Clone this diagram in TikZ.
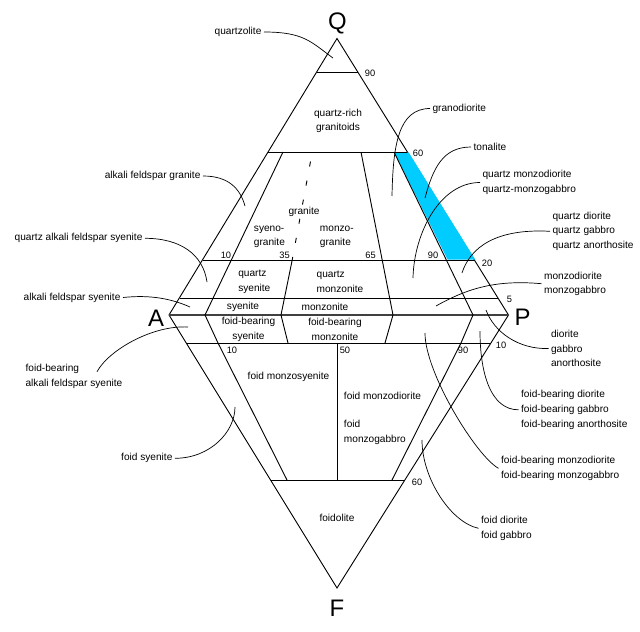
\documentclass[tikz,border=0pt]{standalone}
\usepackage{fontspec}
\setmainfont{Liberation Sans}
\usetikzlibrary{calc}
\definecolor{tonblue}{RGB}{0,204,255}
\newcommand{\fieldfont}{\fontsize{7.2}{10.4}\selectfont}
\newcommand{\tickfont}{\fontsize{6.6}{8}\selectfont}
\newcommand{\apexfont}{\fontsize{17}{20}\selectfont}

\begin{document}
\begin{tikzpicture}[x=0.025cm, y=-0.025cm, line width=0.65pt,
  field/.style={font=\fieldfont, inner sep=0pt, align=center},
  rock/.style={font=\fieldfont, inner sep=1.5pt, align=left},
  tick/.style={font=\tickfont, inner sep=0pt},
  apex/.style={font=\apexfont, inner sep=0pt},
  leader/.style={line width=0.5pt}]
  \useasboundingbox (0,0) rectangle (640,632);
  % Corners of the double triangle
  \coordinate (Q) at (337,38.5);
  \coordinate (A) at (169,315);
  \coordinate (P) at (508.5,315);
  \coordinate (F) at (337,588);
  \draw (Q) -- (P) -- (F) -- (A) -- cycle;
  \node[apex] (Qlab) at (337.5,23) {Q};
  \node[apex] (Alab) at (156,318) {A};
  \node[apex] (Plab) at (522.5,317.5) {P};
  \node[apex] (Flab) at (337,608) {F};
  % Tonalite field
  \fill[tonblue] (394.5,152.5) -- (408.7,152.5) -- (475.2,259.5) -- (447.5,259.5) -- cycle;
  % Horizontal lines (Q and F contents)
  \draw (317,72) -- (357.6,72);
  \draw (268.2,152) -- (407.4,152);
  \draw (202.5,260) -- (474.7,260);
  \draw (179.5,298) -- (498.4,298);
  \draw[line width=1.1pt, black!75] (A) -- (P);
  \draw (186,343) -- (490.9,343);
  \draw (270.5,480) -- (404.9,480);
  % Lines of P/(A+P)
  \draw (283,152) -- (205,315) -- (218,343) -- (287,480);
  \draw[dash pattern=on 3.6pt off 10.2pt] (310.5,161.5) -- (292.2,260);
  \draw (292.2,260) -- (281,315) -- (288,343);
  \draw (361,152) -- (393,315) -- (385,343);
  \draw (394,152) -- (473,315) -- (461,343) -- (392,480);
  \draw (337.5,343) -- (337.5,480);
  % Tick values
  \node[tick] (t90q) at (370,73) {90};
  \node[tick] (t60q) at (418,153) {60};
  \node[tick] (t10a) at (226,255) {10};
  \node[tick] (t35) at (284.5,255) {35};
  \node[tick] (t65) at (370.5,255) {65};
  \node[tick] (t90p) at (433,255) {90};
  \node[tick] (t20q) at (487,263) {20};
  \node[tick] (t5q) at (509.5,299) {5};
  \node[tick] (t10f) at (501,345) {10};
  \node[tick] (t10b) at (232,350) {10};
  \node[tick] (t50) at (345,350) {50};
  \node[tick] (t90b) at (463,350) {90};
  \node[tick] (t60f) at (417,482) {60};
  % Field names inside
  \node[field] (qrich) at (338,121) {quartz-rich\\granitoids};
  \node[field] (granite) at (304,212) {granite};
  \node[field, anchor=west, align=left] (syenogranite) at (253.5,236.7) {syeno-\\granite};
  \node[field, anchor=west, align=left] (monzogranite) at (319.5,236.7) {monzo-\\granite};
  \node[field, anchor=west, align=left] (qsyenite) at (237.8,281.7) {quartz\\syenite};
  \node[field, anchor=west, align=left] (qmonzonite) at (316.2,281.7) {quartz\\monzonite};
  \node[field] (syenite) at (243,306.7) {syenite};
  \node[field] (monzonite) at (325,306.7) {monzonite};
  \node[field] (fbsyenite) at (248.5,329.5) {foid-bearing\\syenite};
  \node[field] (fbmonzonite) at (335,329.5) {foid-bearing\\monzonite};
  \node[field] (fmonzosyenite) at (288.5,376.7) {foid monzosyenite};
  \node[field, anchor=west] (fmonzodiorite) at (343.5,395.7) {foid monzodiorite};
  \node[field, anchor=west, align=left] (fmonzogabbro) at (343.5,432.2) {foid\\monzogabbro};
  \node[field] (foidolite) at (337,518.3) {foidolite};
  % Names outside, left
  \node[rock, anchor=east] (quartzolite) at (264,32) {quartzolite};
  \node[rock, anchor=east] (afgranite) at (203,176) {alkali feldspar granite};
  \node[rock, anchor=east] (qafsyenite) at (145,238.3) {quartz alkali feldspar syenite};
  \node[rock, anchor=east] (afsyenite) at (123,297.5) {alkali feldspar syenite};
  \node[rock, anchor=west] (fbafsyenite) at (23,376.3) {foid-bearing\\alkali feldspar syenite};
  \node[rock, anchor=east] (fsyenite) at (175,458.3) {foid syenite};
  % Names outside, right
  \node[rock, anchor=west] (granodiorite) at (430,108.5) {granodiorite};
  \node[rock, anchor=west] (tonalite) at (471,147) {tonalite};
  \node[rock, anchor=west] (qmonzodiorite) at (480,182.5) {quartz monzodiorite\\quartz-monzogabbro};
  \node[rock, anchor=west] (qdiorite) at (550,231.3) {quartz diorite\\quartz gabbro\\quartz anorthosite};
  \node[rock, anchor=west] (monzodiorite) at (541.5,283.7) {monzodiorite\\monzogabbro};
  \node[rock, anchor=west] (diorite) at (548.5,348.5) {diorite\\gabbro\\anorthosite};
  \node[rock, anchor=west] (fbdiorite) at (518.5,409.8) {foid-bearing diorite\\foid-bearing gabbro\\foid-bearing anorthosite};
  \node[rock, anchor=west] (fbmonzodiorite) at (498.5,468.3) {foid-bearing monzodiorite\\foid-bearing monzogabbro};
  \node[rock, anchor=west] (fdiorite) at (478.5,528.3) {foid diorite\\foid gabbro};
  % Leader tips in the fields
  \coordinate (quartzolite-tip) at (333,58);
  \coordinate (afgranite-tip) at (245,206);
  \coordinate (qafsyenite-tip) at (207,282);
  \coordinate (afsyenite-tip) at (190,307);
  \coordinate (fbafsyenite-tip) at (188,327);
  \coordinate (fsyenite-tip) at (235,407);
  \coordinate (granodiorite-tip) at (392,196);
  \coordinate (tonalite-tip) at (425,198);
  \coordinate (qmonzodiorite-tip) at (413,278);
  \coordinate (qdiorite-tip) at (462,273);
  \coordinate (monzodiorite-tip) at (436,306);
  \coordinate (diorite-tip) at (486,310);
  \coordinate (fbdiorite-tip) at (480,331);
  \coordinate (fbmonzodiorite-tip) at (425,333);
  \coordinate (fdiorite-tip) at (422,440);
  % Leaders
  \draw[leader] (quartzolite.east) .. controls +(40,0) and +(-22,-16) .. (quartzolite-tip);
  \draw[leader] (afgranite.east) .. controls +(25,0) and +(-5,-18) .. (afgranite-tip);
  \draw[leader] (qafsyenite.east) .. controls +(35,0) and +(-4,-28) .. (qafsyenite-tip);
  \draw[leader] (afsyenite.east) .. controls +(28,-3) and +(-18,-8) .. (afsyenite-tip);
  \draw[leader] ($(fbafsyenite.north west)+(74,10)$) .. controls +(12,-22) and +(-35,-2) .. (fbafsyenite-tip);
  \draw[leader] (fsyenite.east) .. controls +(35,0) and +(0,25) .. (fsyenite-tip);
  \draw[leader] (granodiorite.west) .. controls +(-32,0) and +(1,-50) .. (granodiorite-tip);
  \draw[leader] (tonalite.west) .. controls +(-28,0) and +(8,-30) .. (tonalite-tip);
  \draw[leader] (qmonzodiorite.west) .. controls +(-40,0) and +(1,-45) .. (qmonzodiorite-tip);
  \draw[leader] (qdiorite.west) .. controls +(-55,-3) and +(8,-25) .. (qdiorite-tip);
  \draw[leader] (monzodiorite.west) .. controls +(-45,-4) and +(32,-18) .. (monzodiorite-tip);
  \draw[leader] (diorite.west) .. controls +(-30,1) and +(8,22) .. (diorite-tip);
  \draw[leader] (fbdiorite.west) .. controls +(-28,0) and +(0,42) .. (fbdiorite-tip);
  \draw[leader] (fbmonzodiorite.west) .. controls +(-22,-12) and +(0,40) .. (fbmonzodiorite-tip);
  \draw[leader] (fdiorite.west) .. controls +(-28,-6) and +(0,38) .. (fdiorite-tip);
\end{tikzpicture}
\end{document}
